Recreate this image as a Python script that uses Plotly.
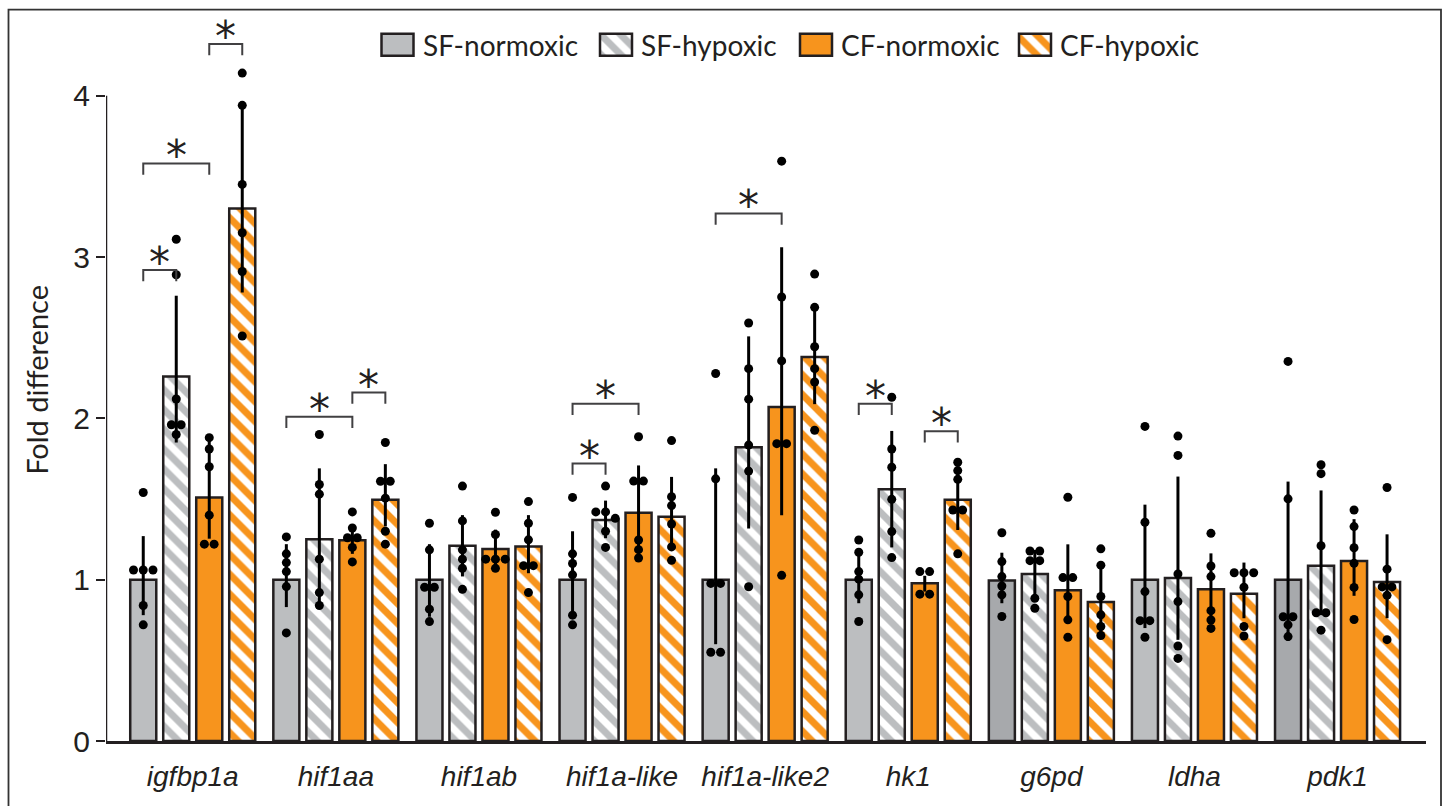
import plotly.graph_objects as go

# ---------------- data ----------------
genes = ["igfbp1a", "hif1aa", "hif1ab", "hif1a-like", "hif1a-like2", "hk1", "g6pd", "ldha", "pdk1"]
series_names = ["SF-normoxic", "SF-hypoxic", "CF-normoxic", "CF-hypoxic"]

sf_norm_mean = [1.00, 1.00, 1.00, 1.00, 1.00, 1.00, 0.995, 1.00, 1.00]
sf_hyp_mean = [2.26, 1.25, 1.21, 1.37, 1.82, 1.56, 1.035, 1.01, 1.087]
cf_norm_mean = [1.51, 1.245, 1.19, 1.415, 2.07, 0.978, 0.935, 0.94, 1.115]
cf_hyp_mean = [3.30, 1.495, 1.205, 1.39, 2.38, 1.495, 0.862, 0.913, 0.985]

# error bar upper / lower ends
sf_norm_hi = [1.27, 1.22, 1.22, 1.30, 1.69, 1.147, 1.167, 1.465, 1.608]
sf_norm_lo = [0.78, 0.83, 0.77, 0.78, 0.60, 0.854, 0.854, 0.70, 0.62]
sf_hyp_hi = [2.76, 1.69, 1.40, 1.49, 2.508, 1.922, 1.184, 1.639, 1.553]
sf_hyp_lo = [1.85, 0.83, 1.02, 1.257, 1.317, 1.20, 0.885, 0.627, 0.78]
cf_norm_hi = [1.877, 1.34, 1.31, 1.708, 3.06, 1.024, 1.219, 1.163, 1.375]
cf_norm_lo = [1.254, 1.16, 1.07, 1.163, 1.40, 0.926, 0.73, 0.755, 0.90]
cf_hyp_hi = [3.94, 1.716, 1.40, 1.637, 2.669, 1.70, 1.09, 1.106, 1.281]
cf_hyp_lo = [2.78, 1.33, 1.04, 1.186, 2.088, 1.308, 0.657, 0.761, 0.761]

# individual points
sf_norm_pts = [
    [1.54, 1.06, 1.06, 1.06, 0.84, 0.72],
    [1.265, 1.16, 1.106, 1.05, 0.957, 0.67],
    [1.35, 1.185, 0.953, 0.953, 0.817, 0.74],
    [1.51, 1.16, 1.10, 1.03, 0.78, 0.72],
    [2.278, 1.625, 0.977, 0.977, 0.55, 0.55],
    [1.246, 1.17, 1.05, 1.003, 0.906, 0.741],
    [1.291, 1.112, 1.019, 0.961, 0.906, 0.772],
    [1.95, 1.356, 0.926, 0.746, 0.746, 0.643],
    [2.353, 1.501, 0.77, 0.77, 0.72, 0.647],
]
sf_hyp_pts = [
    [3.11, 2.89, 2.12, 1.96, 1.96, 1.90],
    [1.90, 1.59, 1.53, 1.127, 0.92, 0.84],
    [1.58, 1.364, 1.185, 1.127, 1.07, 0.94],
    [1.58, 1.42, 1.42, 1.38, 1.30, 1.20],
    [2.591, 2.308, 2.119, 1.834, 1.673, 0.956],
    [2.131, 1.81, 1.697, 1.498, 1.298, 1.137],
    [1.178, 1.178, 1.118, 1.118, 0.885, 0.823],
    [1.89, 1.77, 1.035, 0.864, 0.589, 0.512],
    [1.712, 1.657, 1.21, 0.795, 0.795, 0.687],
]
cf_norm_pts = [
    [1.88, 1.81, 1.70, 1.40, 1.22, 1.22],
    [1.42, 1.32, 1.26, 1.26, 1.20, 1.11],
    [1.418, 1.28, 1.127, 1.127, 1.127, 1.07],
    [1.886, 1.611, 1.611, 1.246, 1.186, 1.134],
    [3.594, 2.752, 2.356, 1.843, 1.843, 1.027],
    [1.05, 1.05, 0.91, 0.91],
    [1.511, 1.013, 1.013, 0.896, 0.751, 0.643],
    [1.287, 1.085, 1.019, 0.808, 0.75, 0.698],
    [1.432, 1.329, 1.198, 1.101, 0.952, 0.753],
]
cf_hyp_pts = [
    [4.14, 3.94, 3.45, 3.15, 2.91, 2.51],
    [1.85, 1.61, 1.61, 1.505, 1.30, 1.22],
    [1.484, 1.35, 1.247, 1.087, 1.087, 0.92],
    [1.862, 1.514, 1.459, 1.345, 1.203, 1.12],
    [2.894, 2.688, 2.444, 2.308, 2.225, 1.926],
    [1.728, 1.676, 1.622, 1.432, 1.432, 1.16],
    [1.191, 1.09, 0.896, 0.782, 0.71, 0.654],
    [1.043, 1.043, 1.043, 0.953, 0.71, 0.651],
    [1.571, 1.065, 0.955, 0.955, 0.903, 0.628],
]

# significance brackets: (gene index, series a, series b, height)
sig_gene = [0, 0, 0, 1, 1, 3, 3, 4, 5, 5]
sig_a = [0, 0, 2, 0, 2, 0, 0, 0, 0, 2]
sig_b = [1, 2, 3, 2, 3, 1, 2, 2, 1, 3]
sig_y = [2.92, 3.58, 4.32, 2.01, 2.16, 1.72, 2.09, 3.27, 2.09, 1.92]

yticks = [0, 1, 2, 3, 4]
y_title = "Fold difference"

# ---------------- styling / geometry ----------------
W, H = 1443, 806
L, R, T, B = 106, 17, 15.375, 65
G0_PX, G_PX = 192.75, 143.1          # pixel centre of first group, px per group
PLOT_W = W - L - R
PLOT_H = H - T - B
x_range = [(L - G0_PX) / G_PX, (W - R - G0_PX) / G_PX]
y_range = [0, 4.5]

GRAY = "#BCBEC0"
GRAY_DARK = "#A7A9AC"
ORANGE = "#F7941D"
INK = "#231F20"
STEP = 0.2306
BAR_W = 0.182
offsets = [-1.5 * STEP, -0.5 * STEP, 0.5 * STEP, 1.5 * STEP]

means = [sf_norm_mean, sf_hyp_mean, cf_norm_mean, cf_hyp_mean]
his = [sf_norm_hi, sf_hyp_hi, cf_norm_hi, cf_hyp_hi]
los = [sf_norm_lo, sf_hyp_lo, cf_norm_lo, cf_hyp_lo]
pts = [sf_norm_pts, sf_hyp_pts, cf_norm_pts, cf_hyp_pts]

sf_norm_colors = [GRAY_DARK if g in ("g6pd", "pdk1") else GRAY for g in genes]
PAT_SIZE = 14
PAT_SOL = 0.5
markers = [
    dict(color=sf_norm_colors, line=dict(color=INK, width=2.5)),
    dict(color="white", line=dict(color=INK, width=2.5),
         pattern=dict(shape="\\", fgcolor=GRAY, bgcolor="white", fgopacity=1,
                      size=PAT_SIZE, solidity=PAT_SOL)),
    dict(color=ORANGE, line=dict(color=INK, width=2.5)),
    dict(color="white", line=dict(color=INK, width=2.5),
         pattern=dict(shape="\\", fgcolor=ORANGE, bgcolor="white", fgopacity=1,
                      size=PAT_SIZE, solidity=PAT_SOL)),
]

fig = go.Figure()
xs_all = list(range(len(genes)))

for s in range(4):
    xs = [i + offsets[s] for i in xs_all]
    fig.add_trace(go.Bar(
        x=xs, y=means[s], width=BAR_W, marker=markers[s], name=series_names[s],
        showlegend=False, opacity=1,
        error_y=dict(type="data", symmetric=False,
                     array=[h - m for h, m in zip(his[s], means[s])],
                     arrayminus=[m - l for m, l in zip(means[s], los[s])],
                     color="black", thickness=3, width=0),
    ))

# dots with simple symmetric swarm for coincident values
DOT_DX = 0.068
THR = 0.045
dx_list, dy_list = [], []
for s in range(4):
    for i in xs_all:
        vals = sorted(pts[s][i], reverse=True)
        clusters = []
        for v in vals:
            if clusters and abs(clusters[-1][-1] - v) < THR:
                clusters[-1].append(v)
            else:
                clusters.append([v])
        for c in clusters:
            n = len(c)
            for k, v in enumerate(c):
                dx_list.append(i + offsets[s] + (k - (n - 1) / 2) * DOT_DX)
                dy_list.append(v)
fig.add_trace(go.Scatter(x=dx_list, y=dy_list, mode="markers",
                         marker=dict(color="black", size=9), showlegend=False,
                         cliponaxis=False, hoverinfo="y"))

# y-axis line from 0 to 4
fig.add_trace(go.Scatter(x=[x_range[0], x_range[0]], y=[yticks[0], yticks[-1]], mode="lines",
                         line=dict(color=INK, width=2.5), showlegend=False,
                         cliponaxis=False, hoverinfo="skip"))

# significance brackets
LEG = 0.07
annotations = []
shapes = []
for g, a, b, yb in zip(sig_gene, sig_a, sig_b, sig_y):
    xa = g + offsets[a]
    xb = g + offsets[b]
    shapes.append(dict(type="path", xref="x", yref="y",
                       path=f"M {xa},{yb - LEG} L {xa},{yb} L {xb},{yb} L {xb},{yb - LEG}",
                       line=dict(color="#414042", width=2)))
    annotations.append(dict(x=(xa + xb) / 2, y=yb, xref="x", yref="y", text="*",
                            showarrow=False, yanchor="bottom", yshift=-19,
                            font=dict(family="DejaVu Sans", size=42, color="#231F20")))

# legend drawn on a pixel-coordinate overlay axis
leg_box_x = [397.5, 616.0, 816.0, 1035.0]
leg_text_x = [421, 639, 839, 1058]
for s in range(4):
    fig.add_trace(go.Bar(x=[leg_box_x[s]], y=[-22], base=[56], width=[32],
                         marker=dict(color=(GRAY if s == 0 else markers[s]["color"]),
                                     line=dict(color=INK, width=2.5),
                                     pattern=markers[s].get("pattern", None)),
                         xaxis="x2", yaxis="y2", showlegend=False, hoverinfo="skip"))
    annotations.append(dict(x=leg_text_x[s], y=45, xref="x2", yref="y2", text=series_names[s],
                            showarrow=False, xanchor="left", yanchor="middle",
                            font=dict(family="Lato", size=28, color=INK)))

# y-axis title
annotations.append(dict(x=(37 - L) / PLOT_W, y=(H - B - 380) / PLOT_H, xref="paper", yref="paper",
                        text=y_title, textangle=-90, showarrow=False,
                        xanchor="center", yanchor="middle",
                        font=dict(family="Lato", size=29, color=INK)))

# figure frame
shapes.append(dict(type="rect", xref="paper", yref="paper",
                   x0=(8.5 - L) / PLOT_W, x1=(1441 - L) / PLOT_W,
                   y0=(H - B - 830) / PLOT_H, y1=(H - B - 10) / PLOT_H,
                   line=dict(color="#333333", width=1.8), fillcolor="rgba(0,0,0,0)"))

fig.update_layout(
    width=W, height=H,
    margin=dict(l=L, r=R, t=T, b=B, autoexpand=False),
    paper_bgcolor="white", plot_bgcolor="white",
    barmode="overlay",
    showlegend=False,
    xaxis=dict(range=x_range, tickvals=xs_all, ticktext=[f"<i>{g}</i>" for g in genes],
               showline=True, linecolor=INK, linewidth=2.5,
               ticks="outside", ticklen=9, tickcolor="rgba(0,0,0,0)", showgrid=False,
               zeroline=False, tickfont=dict(family="Liberation Sans", size=28, color=INK)),
    yaxis=dict(range=y_range, tickvals=yticks, ticktext=[str(v) for v in yticks],
               showline=False, ticks="outside", ticklen=9, tickwidth=2, tickcolor=INK,
               showgrid=False, zeroline=False,
               tickfont=dict(family="Liberation Sans", size=30, color=INK)),
    xaxis2=dict(range=[L, W - R], overlaying="x", visible=False, domain=[0, 1]),
    yaxis2=dict(range=[H - B, T], overlaying="y", visible=False, domain=[0, 1]),
    annotations=annotations,
    shapes=shapes,
)

fig.write_html("out.html", config={"displayModeBar": False},
               post_script="document.body.style.margin='0';document.body.style.overflow='hidden';")
